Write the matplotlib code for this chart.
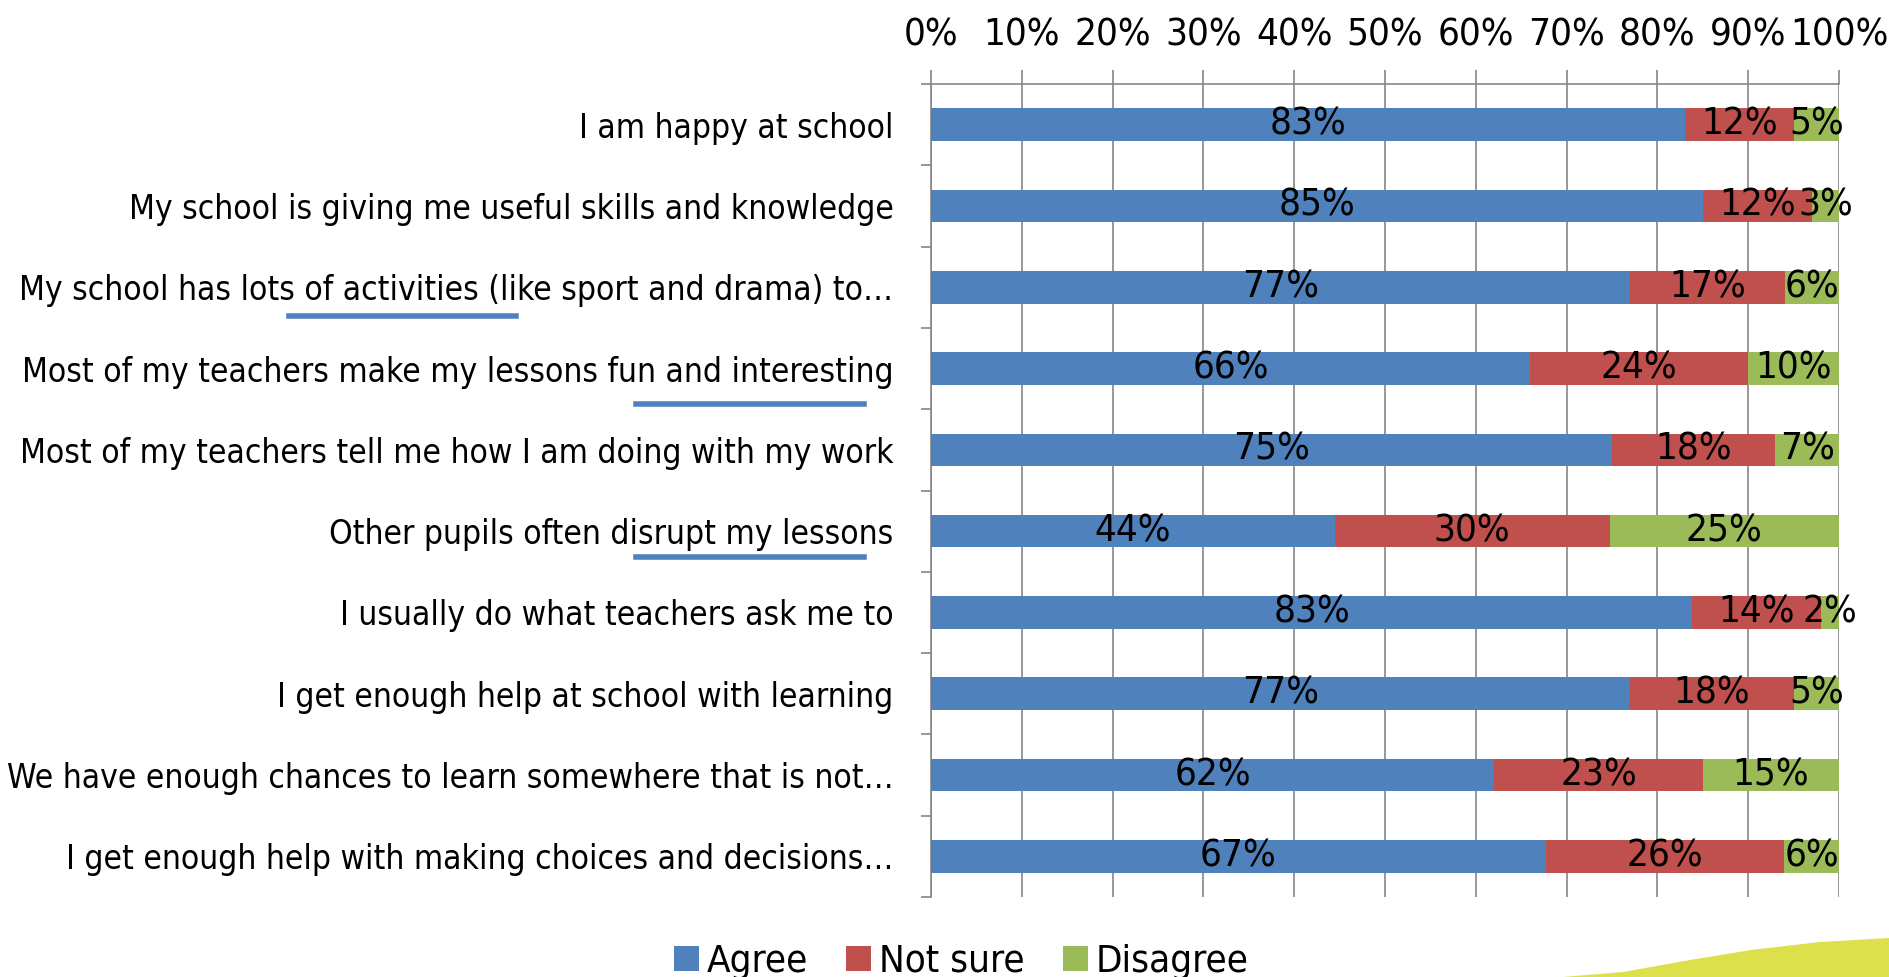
import numpy as np
import matplotlib.pyplot as plt
from matplotlib import font_manager
from matplotlib.patches import Polygon, Patch
from matplotlib.lines import Line2D

# pick a narrow font close to the Calibri look of the original
fonts = font_manager.fontManager.ttflist
names = {f.name for f in fonts}
stretch = 'normal'
if 'Liberation Sans Narrow' in names:
    fam = 'Liberation Sans Narrow'
elif any(f.name == 'DejaVu Sans' and f.stretch == 'condensed' for f in fonts):
    fam, stretch = 'DejaVu Sans', 'condensed'
else:
    fam = 'Liberation Sans'
plt.rcParams['font.family'] = [fam, 'DejaVu Sans']
plt.rcParams['font.stretch'] = stretch

questions = [
    "I am happy at school",
    "My school is giving me useful skills and knowledge",
    "My school has lots of activities (like sport and drama) to\u2026",
    "Most of my teachers make my lessons fun and interesting",
    "Most of my teachers tell me how I am doing with my work",
    "Other pupils often disrupt my lessons",
    "I usually do what teachers ask me to",
    "I get enough help at school with learning",
    "We have enough chances to learn somewhere that is not\u2026",
    "I get enough help with making choices and decisions\u2026",
]
agree = [83, 85, 77, 66, 75, 44, 83, 77, 62, 67]
not_sure = [12, 12, 17, 24, 18, 30, 14, 18, 23, 26]
disagree = [5, 3, 6, 10, 7, 25, 2, 5, 15, 6]
series = ["Agree", "Not sure", "Disagree"]
colors = ["#4F81BD", "#C0504D", "#9BBB59"]

W, H = 1889, 977
fig = plt.figure(figsize=(W / 100, H / 100), dpi=100)

# size the font so the widest label is as wide as in the original (~873 px)
probe = fig.text(0, 0, questions[3], fontsize=26)
r = fig.canvas.get_renderer()
fs = 26 * 873 / probe.get_window_extent(r).width
probe.remove()
fs_num = fs * 1.15  # digits in the original are a bit wider

ax = fig.add_axes([931 / W, 1 - 897 / H, (1839 - 931) / W, (897 - 84) / H])

vals = np.array([agree, not_sure, disagree], dtype=float)
shares = vals / vals.sum(axis=0) * 100
y = np.arange(len(questions))
left = np.zeros(len(questions))
for i in range(3):
    ax.barh(y, shares[i], left=left, height=0.4, color=colors[i], zorder=3)
    for j in range(len(questions)):
        ax.text(left[j] + shares[i][j] / 2, y[j], f"{int(vals[i][j])}%",
                ha='center', va='center', fontsize=fs_num, color='black', zorder=4)
    left += shares[i]

ax.set_xlim(0, 100)
ax.set_ylim(len(questions) - 0.5, -0.5)
ax.xaxis.tick_top()
ax.set_xticks(np.arange(0, 101, 10))
ax.set_xticklabels([f"{v}%" for v in range(0, 101, 10)], fontsize=fs_num)
ax.tick_params(axis='x', length=10, width=1.2, color='#868686', pad=12)
ax.set_yticks(y)
ax.set_yticklabels(questions, fontsize=fs)
ax.tick_params(axis='y', which='major', length=0, pad=27)
ax.set_yticks(np.arange(-0.5, len(questions)), minor=True)
ax.tick_params(axis='y', which='minor', length=7, width=1.2, color='#868686')
ax.grid(axis='x', color='#868686', linewidth=1.2, zorder=0)
for s in ['right', 'bottom']:
    ax.spines[s].set_visible(False)
for s in ['top', 'left']:
    ax.spines[s].set_color('#868686')
    ax.spines[s].set_linewidth(1.2)

# blue underlines drawn on the original slide
for x0, x1, yy in [(289, 516, 316), (636, 864, 404), (636, 864, 557)]:
    fig.add_artist(Line2D([x0 / W, x1 / W], [1 - yy / H, 1 - yy / H],
                          color='#4F81BD', linewidth=4, transform=fig.transFigure))

# yellow-green swoosh in the corner
pts = [(1563, 977), (1623, 972), (1690, 960), (1751, 950), (1820, 942), (1889, 938), (1889, 977)]
fig.add_artist(Polygon([(px / W, 1 - py / H) for px, py in pts], closed=True,
                       facecolor='#DCE04A', edgecolor='none', transform=fig.transFigure))

handles = [Patch(facecolor=c, edgecolor='none') for c in colors]
fig.legend(handles, series, loc='center', bbox_to_anchor=(961 / W, 1 - 962 / H),
           ncol=3, frameon=False, fontsize=fs_num, handlelength=0.65, handleheight=0.65,
           handletextpad=0.2, columnspacing=1.0)

fig.savefig('out.png', dpi=100)
